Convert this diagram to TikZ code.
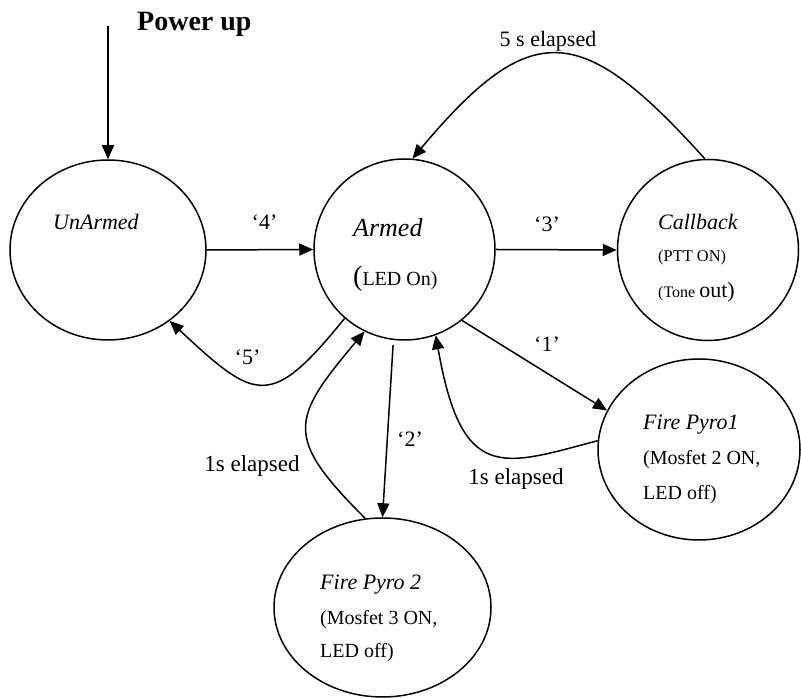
\documentclass[tikz,border=0pt]{standalone}
\usepackage{fontspec}
\setmainfont{Liberation Serif}
\usetikzlibrary{shapes.geometric,arrows.meta}
\tikzset{
  /tikz/.cd,
  phase/.style={draw,ellipse,line width=1.5pt,inner sep=0pt},
  intext/.style={anchor=base west,inner sep=0pt,font=\fontsize{20}{24}\selectfont},
  cond/.style={anchor=base,inner sep=0pt,font=\fontsize{22}{26}\selectfont}
}

\begin{document}
\begin{tikzpicture}[x=1pt,y=1pt,
                    trans/.style={-{Triangle[length=14pt,width=12pt]},line width=1.5pt},
                    title/.style={intext,font=\fontsize{22}{26}\selectfont\itshape}]
  \useasboundingbox (0,0) rectangle (801,698);

  % states
  \node[phase,minimum width=196pt,minimum height=180pt] (unarmed) at (108,448) {};
  \node[phase,minimum width=181pt,minimum height=181pt] (armed) at (404.5,448.5) {};
  \node[phase,minimum width=181pt,minimum height=181pt] (callback) at (708,448) {};
  \node[phase,minimum width=202pt,minimum height=181pt] (pyroone) at (699,248.5) {};
  \node[phase,minimum width=217pt,minimum height=179pt] (pyrotwo) at (382.5,90.5) {};

  % state texts
  \node[title] (unarmedname) at (53,468) {UnArmed};
  \node[title,font=\fontsize{26}{30}\selectfont\itshape] (armedname) at (353,461) {Armed};
  \node[intext] (armedled) at (353,412) {{\fontsize{28}{30}\selectfont(}LED On)};
  \node[title] (callbackname) at (658,468) {Callback};
  \node[intext,font=\fontsize{16.4}{20}\selectfont] (callbackptt) at (658,436) {(PTT ON)};
  \node[intext,font=\fontsize{16}{20}\selectfont] (callbacktone) at (658,400) {(Tone {\fontsize{22}{26}\selectfont out)}};
  \node[title] (pyroonename) at (643,268) {Fire Pyro1};
  \node[intext] (pyroonemos) at (643,233) {(Mosfet 2 ON,};
  \node[intext] (pyrooneled) at (643,198) {LED off)};
  \node[title] (pyrotwoname) at (320,108) {Fire Pyro 2};
  \node[intext] (pyrotwomos) at (320,73) {(Mosfet 3 ON,};
  \node[intext] (pyrotwoled) at (320,40) {LED off)};

  % power up
  \node[intext,font=\fontsize{28}{32}\selectfont\bfseries] (powerup) at (137,667) {Power up};
  \coordinate (poweron) at (108,672);
  \draw[trans] (poweron) -- (unarmed.north);

  % conditions
  \node[cond] (keyfour) at (264.5,468) {‘4’};
  \node[cond] (keythree) at (547,466) {‘3’};
  \node[cond] (keyone) at (547,346) {‘1’};
  \node[cond] (keytwo) at (410,251) {‘2’};
  \node[cond] (keyfive) at (247.5,333) {‘5’};
  \node[cond] (waitfive) at (548,651) {5 s elapsed};
  \node[cond,font=\fontsize{23}{26}\selectfont] (waitone) at (516,213) {1s elapsed};
  \node[cond,font=\fontsize{23}{26}\selectfont] (waittwo) at (252,226) {1s elapsed};

  % transitions
  \draw[trans] (unarmed.east) -- (armed.west);
  \draw[trans] (armed.east) -- (callback.west);
  \draw[trans] (callback.92) .. controls +(132:185) and +(50:185) .. (armed.85);
  \draw[trans] (armed.-51) -- (pyroone.157);
  \draw[trans] (pyroone.175) .. controls +(195:100) and +(-80:150) .. (armed.-70);
  \draw[trans,shorten <=5pt] (armed.-97) -- (pyrotwo.north);
  \draw[trans] (pyrotwo.101) .. controls +(135:115) and +(-130:115) .. (armed.-116);
  \draw[trans] (armed.-131) .. controls +(-129:118) and +(-43:118) .. (unarmed.-49);
\end{tikzpicture}
\end{document}
